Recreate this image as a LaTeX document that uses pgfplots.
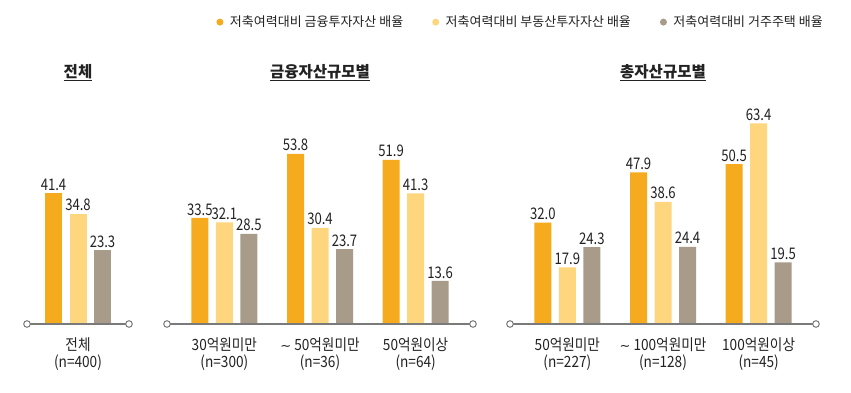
\documentclass[border=0pt]{standalone}
\usepackage{fontspec}
\usepackage{pgfplots}
\pgfplotsset{compat=1.18}
\setmainfont{Noto Sans CJK KR}
\newfontfamily\numfont[FakeStretch=0.82]{Noto Sans CJK KR}
\newfontfamily\lblfont[FakeStretch=0.88]{Noto Sans CJK KR}
\newfontfamily\dejavu{DejaVu Sans}
\definecolor{cA}{HTML}{F6AB1E}
\definecolor{cB}{HTML}{FDD67E}
\definecolor{cC}{HTML}{A89B8A}
\definecolor{axgray}{HTML}{7A7A7A}
\definecolor{txt}{HTML}{222222}
\pgfplotsset{
  panel/.style={
    scale only axis, height=221.5pt, ymin=0, ymax=70,
    ybar=7.5pt, bar width=17pt,
    axis line style={draw=none}, ytick=\empty, major tick length=0pt,
    xtick={0,1,2}, clip=false,
    /pgf/number format/assume math mode=true,
    nodes near coords={\pgfmathprintnumber[fixed,fixed zerofill,precision=1]{\pgfplotspointmeta}},
    nodes near coords style={font=\numfont\fontsize{16}{16}\selectfont, text=txt, inner sep=2.5pt},
    xticklabel style={font=\lblfont\fontsize{15.5}{17}\selectfont, align=center, text=txt, yshift=-10pt},
  },
  sA/.style={fill=cA, draw=none},
  sB/.style={fill=cB, draw=none},
  sC/.style={fill=cC, draw=none},
}
\newcommand{\baseaxis}{%
  \draw[axgray, line width=1.1pt] (rel axis cs:0,0) -- (rel axis cs:1,0);
  \draw[axgray, line width=1pt, fill=white] (rel axis cs:0,0) circle (3.3pt);
  \draw[axgray, line width=1pt, fill=white] (rel axis cs:1,0) circle (3.3pt);
}
\newcommand{\paneltitle}[1]{%
  \node[font=\bfseries\fontsize{15.5}{15.5}\selectfont, text=txt] at (rel axis cs:0.5,1) [yshift=30pt] {\underline{#1}};
}
\newcommand{\tld}{{\dejavu\fontsize{13}{13}\selectfont ∼}}
\begin{document}
\begin{tikzpicture}
\useasboundingbox (0pt,0pt) rectangle (851pt,393pt);
% Panel 1
\begin{axis}[panel, at={(27pt,69pt)}, anchor=south west, width=102pt,
  xmin=-0.5, xmax=0.5, xtick={0},
  xticklabels={{전체\\(n=400)}}]
\addplot[sA] coordinates {(0,41.4)};
\addplot[sB] coordinates {(0,34.8)};
\addplot[sC] coordinates {(0,23.3)};
\baseaxis
\paneltitle{전체}
\end{axis}
% Panel 2
\begin{axis}[panel, at={(167pt,69pt)}, anchor=south west, width=306pt,
  xmin=-0.6, xmax=2.6,
  xticklabels={{30억원미만\\(n=300)},{\tld{} 50억원미만\\(n=36)},{50억원이상\\(n=64)}}]
\addplot[sA] coordinates {(0,33.5) (1,53.8) (2,51.9)};
\addplot[sB] coordinates {(0,32.1) (1,30.4) (2,41.3)};
\addplot[sC] coordinates {(0,28.5) (1,23.7) (2,13.6)};
\baseaxis
\paneltitle{금융자산규모별}
\end{axis}
% Panel 3
\begin{axis}[panel, at={(510pt,69pt)}, anchor=south west, width=306pt,
  xmin=-0.6, xmax=2.6,
  xticklabels={{50억원미만\\(n=227)},{\tld{} 100억원미만\\(n=128)},{100억원이상\\(n=45)}},
  legend columns=3,
  legend style={at={(1.0392,1.363)}, anchor=east, draw=none, fill=none,
    font=\fontsize{13}{13}\selectfont, text=txt,
    /tikz/every odd column/.append style={column sep=4.5pt},
    /tikz/every even column/.append style={column sep=27pt}},
  legend image code/.code={\fill[#1] (0pt,0pt) circle (3.5pt);}]
\addplot[sA] coordinates {(0,32.0) (1,47.9) (2,50.5)};
\addplot[sB] coordinates {(0,17.9) (1,38.6) (2,63.4)};
\addplot[sC] coordinates {(0,24.3) (1,24.4) (2,19.5)};
\legend{저축여력대비 금융투자자산 배율, 저축여력대비 부동산투자자산 배율, 저축여력대비 거주주택 배율}
\baseaxis
\paneltitle{총자산규모별}
\end{axis}
\end{tikzpicture}
\end{document}
